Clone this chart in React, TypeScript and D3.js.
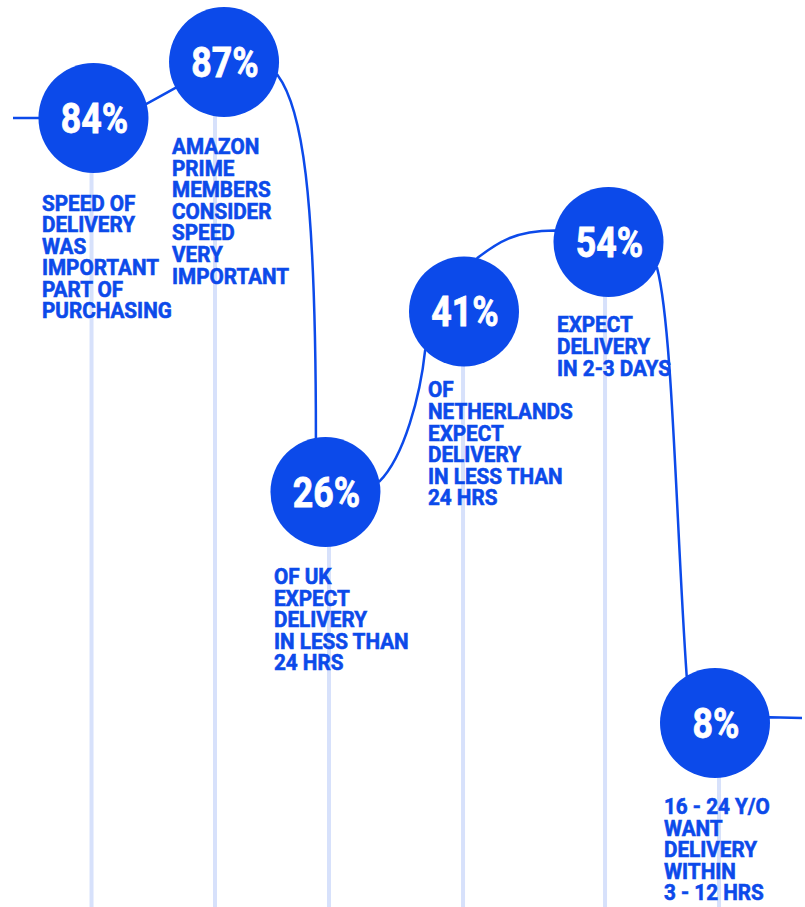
import React from "react";
import * as d3 from "d3";

// ---- data ----
const values = [84, 87, 26, 41, 54, 8];
const labels: string[][] = [
  ["SPEED OF", "DELIVERY", "WAS", "IMPORTANT", "PART OF", "PURCHASING"],
  ["AMAZON", "PRIME", "MEMBERS", "CONSIDER", "SPEED", "VERY", "IMPORTANT"],
  ["OF UK", "EXPECT", "DELIVERY", "IN LESS THAN", "24 HRS"],
  ["OF", "NETHERLANDS", "EXPECT", "DELIVERY", "IN LESS THAN", "24 HRS"],
  ["EXPECT", "DELIVERY", "IN 2-3 DAYS"],
  ["16 - 24 Y/O", "WANT", "DELIVERY", "WITHIN", "3 - 12 HRS"],
];

// ---- layout (normalized to the chart area) ----
const posX = [0.1161, 0.2783, 0.4043, 0.5764, 0.7559, 0.8882];
const posY = [0.1301, 0.0684, 0.5424, 0.3434, 0.2668, 0.7971];
const guideX = [0.1137, 0.2671, 0.4087, 0.5752, 0.7516, 0.8932];
const labelDX = [-51.5, -52, -51.5, -36, -51.5, -51];
const labelDY = [92.5, 92, 92, 86, 90.5, 91];
// connector shape: [exitAngle, exitTangent, entryAngle, entryTangent, handle1, handle2]
const connectors = [
  [-15, -29, 152, -29, 10, 10],
  [13.5, 53, 260, 90, 40, 250],
  [-11, -45, 135, -84, 35, 45],
  [-76, -38, 192, 0, 25, 40],
  [28, 75, 239, 86, 60, 150],
];

const W = 805;
const H = 907;
const R = 55;
const BLUE = "#0c4aea";
const GUIDE = "#d7e1fb";
const FONT = "Roboto, 'Noto Sans', sans-serif";

export default function App() {
  const x = d3.scaleLinear().domain([0, 1]).range([0, W]);
  const y = d3.scaleLinear().domain([0, 1]).range([0, H]);
  const pts = values.map((v, i) => ({ v, cx: x(posX[i]), cy: y(posY[i]) }));
  const rad = (a: number) => (a * Math.PI) / 180;

  const p = d3.path();
  p.moveTo(x(13 / W), pts[0].cy);
  p.lineTo(pts[0].cx, pts[0].cy);
  connectors.forEach((c, i) => {
    const A = pts[i];
    const B = pts[i + 1];
    const [ea, et, ia, it, h1, h2] = c;
    const P = [A.cx + R * Math.cos(rad(ea)), A.cy + R * Math.sin(rad(ea))];
    const Q = [B.cx + R * Math.cos(rad(ia)), B.cy + R * Math.sin(rad(ia))];
    p.lineTo(P[0], P[1]);
    p.bezierCurveTo(
      P[0] + h1 * Math.cos(rad(et)),
      P[1] + h1 * Math.sin(rad(et)),
      Q[0] - h2 * Math.cos(rad(it)),
      Q[1] - h2 * Math.sin(rad(it)),
      Q[0],
      Q[1]
    );
    p.lineTo(B.cx, B.cy);
  });
  const last = pts[pts.length - 1];
  p.lineTo(last.cx + R * Math.cos(rad(-6)), last.cy + R * Math.sin(rad(-6)));
  p.lineTo(x(802 / W), last.cy - 5);

  return (
    <svg
      width={W}
      height={H}
      style={{ position: "absolute", left: 0, top: 0, background: "#fff" }}
      fontFamily={FONT}
    >
      {pts.map((d, i) => (
        <line
          key={"g" + i}
          x1={x(guideX[i])}
          x2={x(guideX[i])}
          y1={d.cy}
          y2={H}
          stroke={GUIDE}
          strokeWidth={4}
        />
      ))}
      <path d={p.toString()} fill="none" stroke={BLUE} strokeWidth={2.5} />
      {pts.map((d, i) => (
        <g key={"c" + i}>
          <circle cx={d.cx} cy={d.cy} r={R} fill={BLUE} />
          <text
            transform={`translate(${d.cx + 1},${d.cy + 15}) scale(0.85,1)`}
            textAnchor="middle"
            fill="#fff"
            stroke="#fff"
            strokeWidth={0.8}
            fontSize={42}
            fontWeight={700}
          >
            {d.v}%
          </text>
          <text
            transform={`translate(${d.cx + labelDX[i]},${d.cy + labelDY[i]}) scale(0.94,1)`}
            fill={BLUE}
            stroke={BLUE}
            strokeWidth={0.6}
            fontSize={22}
            fontWeight={700}
          >
            {labels[i].map((t, j) => (
              <tspan key={j} x={0} y={j * 21.6}>
                {t}
              </tspan>
            ))}
          </text>
        </g>
      ))}
    </svg>
  );
}
